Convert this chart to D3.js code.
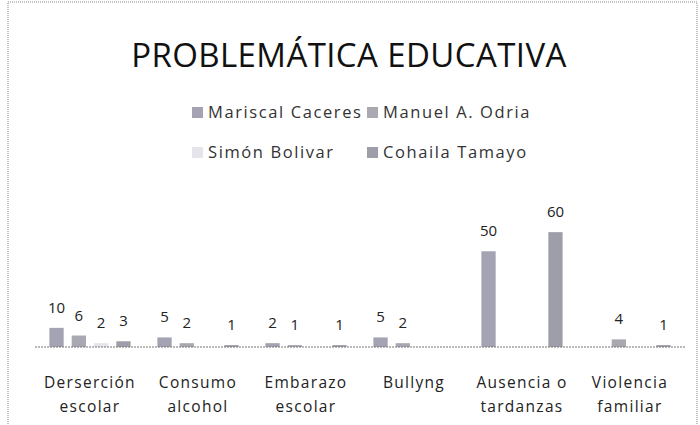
<!DOCTYPE html>
<html>
<head>
<meta charset="utf-8">
<script src="https://cdn.jsdelivr.net/npm/d3@7"></script>
<style>
  body { margin: 0; background: #fff; }
  text { font-family: "Open Sans", "DejaVu Sans", sans-serif; }
</style>
</head>
<body>
<svg id="chart" width="700" height="425"></svg>
<script>
// categories (two-line labels)
const categories = [
    ["Derserción", "escolar"],
    ["Consumo", "alcohol"],
    ["Embarazo", "escolar"],
    ["Bullyng", ""],
    ["Ausencia o", "tardanzas"],
    ["Violencia", "familiar"]
];
const seriesNames = ["Mariscal Caceres", "Manuel A. Odria", "Simón Bolivar", "Cohaila Tamayo"];
// null = no bar / no label
const mariscal = [10, 5, 2, 5, 50, null];
const manuel = [6, 2, 1, 2, null, 4];
const simon = [2, null, null, null, null, null];
const cohaila = [3, 1, 1, null, 60, 1];
const seriesValues = [mariscal, manuel, simon, cohaila];
const colors = ["#a3a3b3", "#a9a9b2", "#e4e4ea", "#9e9eaa"];

const svg = d3.select("#chart");

// chart border (dotted, like the scan)
svg.append("rect")
    .attr("x", 8).attr("y", 2)
    .attr("width", 689).attr("height", 440)
    .attr("fill", "none")
    .attr("stroke", "#8a8a8a")
    .attr("stroke-dasharray", "1,1");

// title
svg.append("text")
    .attr("x", 349).attr("y", 67)
    .attr("text-anchor", "middle")
    .attr("font-size", 33)
    .attr("letter-spacing", 0.4)
    .attr("fill", "#111")
    .text("PROBLEMÁTICA EDUCATIVA");

// legend (2 x 2)
const legendPos = [[192, 112], [367, 112], [192, 152], [367, 152]];
seriesNames.forEach((name, i) => {
    const g = svg.append("g").attr("transform", `translate(${legendPos[i][0]},${legendPos[i][1]})`);
    g.append("rect").attr("x", 0).attr("y", -5).attr("width", 11).attr("height", 11)
        .attr("fill", colors[i]);
    g.append("text").attr("x", 16).attr("y", 6)
        .attr("font-size", 16.5)
        .attr("letter-spacing", 1.6)
        .attr("fill", "#333")
        .text(name);
});

const x0 = d3.scaleBand()
    .domain(d3.range(categories.length))
    .range([36, 684]);

const x1 = d3.scaleBand()
    .domain(d3.range(seriesNames.length))
    .range([0, x0.bandwidth()])
    .paddingInner(0.36)
    .paddingOuter(0.6);

const y = d3.scaleLinear()
    .domain([0, 70])
    .range([347, 213]);

const bars = [];
seriesValues.forEach((vals, s) => {
    vals.forEach((v, c) => {
        if (v != null) bars.push({ s, c, v });
    });
});

svg.append("g").selectAll("rect")
    .data(bars)
    .enter()
    .append("rect")
    .attr("x", d => x0(d.c) + x1(d.s))
    .attr("y", d => y(d.v))
    .attr("width", x1.bandwidth())
    .attr("height", d => y(0) - y(d.v))
    .attr("fill", d => colors[d.s]);

// value labels
svg.append("g").selectAll("text")
    .data(bars)
    .enter()
    .append("text")
    .attr("x", d => x0(d.c) + x1(d.s) + x1.bandwidth() / 2)
    .attr("y", d => y(d.v) - 15)
    .attr("text-anchor", "middle")
    .attr("font-size", 15)
    .attr("fill", "#222")
    .text(d => d.v);

// axis line
svg.append("line")
    .attr("x1", 35).attr("x2", 685)
    .attr("y1", y(0)).attr("y2", y(0))
    .attr("stroke", "#777")
    .attr("stroke-dasharray", "2,1");

// category labels
const catG = svg.append("g").selectAll("text")
    .data(categories)
    .enter()
    .append("text")
    .attr("text-anchor", "middle")
    .attr("font-size", 15.5)
    .attr("letter-spacing", 1.3)
    .attr("fill", "#222");

catG.append("tspan")
    .attr("x", (d, i) => x0(i) + x0.bandwidth() / 2)
    .attr("y", 388)
    .text(d => d[0]);
catG.append("tspan")
    .attr("x", (d, i) => x0(i) + x0.bandwidth() / 2)
    .attr("y", 412)
    .text(d => d[1]);
</script>
</body>
</html>
